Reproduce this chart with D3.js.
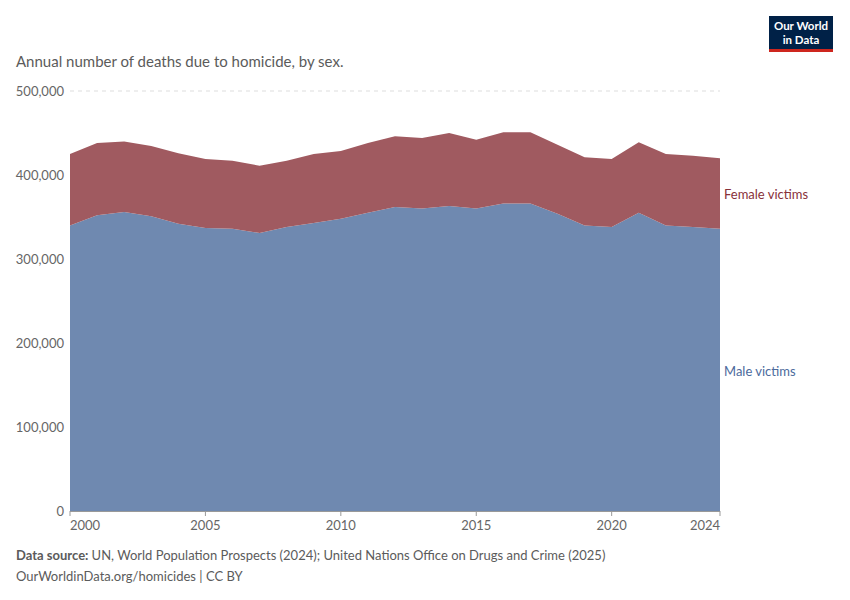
<!DOCTYPE html>
<html><head><meta charset="utf-8">
<script src="https://cdn.jsdelivr.net/npm/d3@7"></script>
<style>body{margin:0;background:#fff;font-family:Lato,sans-serif}</style>
</head><body><svg id="c" width="850" height="600"></svg>
<script>
const years=d3.range(2000,2025);
const male=[340,352,356,351,342,337,336,331,338,343,348,355,362,360,363,360,366,366,354,340,338,355,340,338,336].map(v=>v*1000);
const female=[85,86,84,83.5,84,82,81,80,79,82,80.6,83,84,84,87,82,85,85,82,81,81,84,85,85,84].map(v=>v*1000);
const yTicks=[0,100000,200000,300000,400000,500000];
const xTicks=[2000,2005,2010,2015,2020,2024];

const svg=d3.select("#c");
const x=d3.scaleLinear().domain([2000,2024]).range([70,720]);
const y=d3.scaleLinear().domain([0,500000]).range([511,91]);

svg.append("text").attr("x",16).attr("y",67).attr("fill","#5b5b5b").attr("font-size",15).text("Annual number of deaths due to homicide, by sex.");
const logo=svg.append("g");
logo.append("rect").attr("x",769).attr("y",16).attr("width",64).height;
logo.select("rect").attr("height",33).attr("fill","#002147");
logo.append("rect").attr("x",769).attr("y",49).attr("width",64).attr("height",3).attr("fill","#ce261e");
logo.append("text").attr("x",801).attr("y",30).attr("text-anchor","middle").attr("fill","#fff").attr("font-size",11.5).attr("font-weight",700).text("Our World");
logo.append("text").attr("x",801).attr("y",44).attr("text-anchor","middle").attr("fill","#fff").attr("font-size",11.5).attr("font-weight",700).text("in Data");

yTicks.forEach(t=>{
  if(t>0) svg.append("line").attr("x1",70).attr("x2",720).attr("y1",y(t)).attr("y2",y(t)).attr("stroke","#ddd").attr("stroke-dasharray","4,4");
  svg.append("text").attr("x",64).attr("y",y(t)+5).attr("text-anchor","end").attr("fill","#666").attr("font-size",13).text(d3.format(",")(t));
});

const total=male.map((m,i)=>m+female[i]);
const aM=d3.area().x((d,i)=>x(years[i])).y0(y(0)).y1(d=>y(d));
const aF=d3.area().x((d,i)=>x(years[i])).y0((d,i)=>y(male[i])).y1(d=>y(d));
svg.append("path").attr("d",aM(male)).attr("fill","#6f89b0");
svg.append("path").attr("d",aF(total)).attr("fill","#a05a60");

svg.append("line").attr("x1",70).attr("x2",720).attr("y1",511.5).attr("y2",511.5).attr("stroke","#999");
xTicks.forEach(t=>{
  svg.append("line").attr("x1",x(t)).attr("x2",x(t)).attr("y1",511).attr("y2",516).attr("stroke","#999");
  svg.append("text").attr("x",t===2000?x(t)+15:(t===2024?x(t)-15:x(t))).attr("y",530).attr("text-anchor","middle").attr("fill","#666").attr("font-size",13).text(t);
});

svg.append("text").attr("x",724).attr("y",199).attr("fill","#883039").attr("font-size",13).text("Female victims");
svg.append("text").attr("x",724).attr("y",376).attr("fill","#4c6a9c").attr("font-size",13).text("Male victims");

const s=svg.append("text").attr("x",16).attr("y",560).attr("fill","#5b5b5b").attr("font-size",13);
s.append("tspan").attr("font-weight",700).text("Data source: ");
s.append("tspan").text("UN, World Population Prospects (2024); United Nations Office on Drugs and Crime (2025)");
svg.append("text").attr("x",16).attr("y",581).attr("fill","#5b5b5b").attr("font-size",13).text("OurWorldinData.org/homicides | CC BY");
</script></body></html>
